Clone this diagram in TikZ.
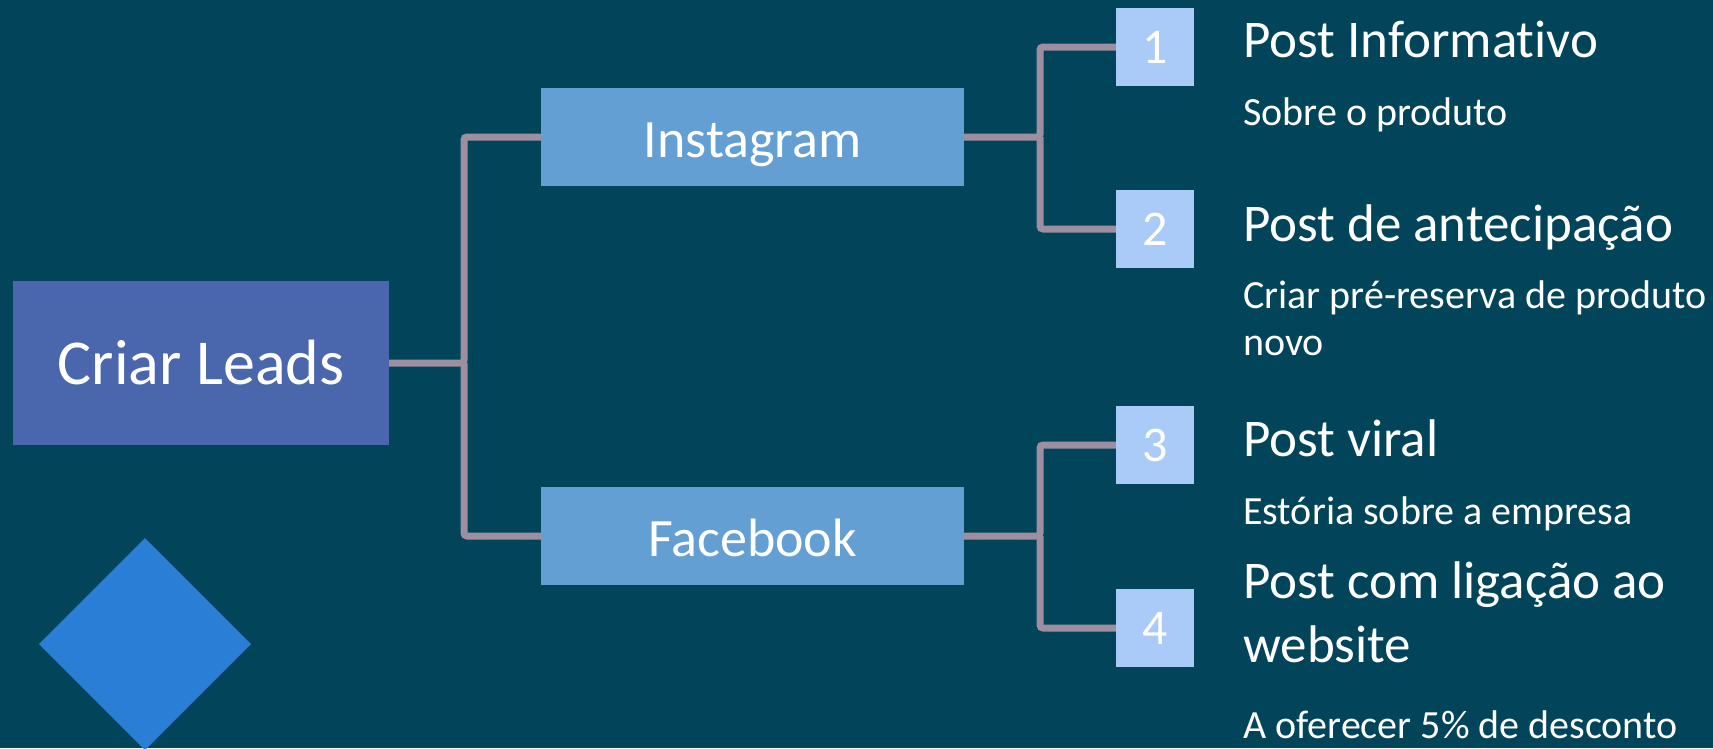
\documentclass[tikz,border=0pt]{standalone}
\usepackage{fontspec}
\setmainfont{Carlito}[Ligatures=NoCommon]
\definecolor{bgc}{HTML}{02445A}
\definecolor{rootc}{HTML}{4A67AE}
\definecolor{midc}{HTML}{639FD2}
\definecolor{numc}{HTML}{AACBF8}
\definecolor{linec}{HTML}{9D8FA0}
\definecolor{diamc}{HTML}{2A7ED6}
\tikzset{
  rootbox/.style={fill=rootc, text=white, minimum width=376pt, minimum height=164pt, inner sep=0pt, font=\fontsize{64}{70}\selectfont},
  midbox/.style={fill=midc, text=white, minimum width=423pt, minimum height=98pt, inner sep=0pt, text height=40pt, text depth=0pt, font=\fontsize{54}{60}\selectfont},
  numbox/.style={fill=numc, text=white, minimum size=78pt, inner sep=0pt, font=\fontsize{50}{56}\selectfont},
  title/.style={anchor=base west, text=white, inner sep=0pt, font=\fontsize{53}{64}\selectfont},
  sub/.style={anchor=base west, text=white, inner sep=0pt, font=\fontsize{40}{47}\selectfont},
  conn/.style={draw=linec, line width=7pt, rounded corners=3pt}
}
\begin{document}
\begin{tikzpicture}[x=1pt, y=-1pt]
\useasboundingbox (0,0) rectangle (1713,748);
\fill[bgc] (0,0) rectangle (1713,748);
\fill[diamc] (39,644) -- (145,538) -- (251,644) -- (145,750) -- cycle;

\node[rootbox] (root) at (201,363) {Criar Leads};
\node[midbox] (ig) at (752.5,137) {Instagram};
\node[midbox] (fb) at (752.5,536) {Facebook};
\node[numbox] (n1) at (1155,47) {1};
\node[numbox] (n2) at (1155,229) {2};
\node[numbox] (n3) at (1155,445) {3};
\node[numbox] (n4) at (1155,628) {4};

\coordinate (j0) at (464,363);
\coordinate (j1) at (1040,137);
\coordinate (j2) at (1040,536);

\draw[conn] (root.east) -- (j0) |- (ig.west);
\draw[conn] (j0) |- (fb.west);
\draw[conn] (ig.east) -- (j1) |- (n1.west);
\draw[conn] (j1) |- (n2.west);
\draw[conn] (fb.east) -- (j2) |- (n3.west);
\draw[conn] (j2) |- (n4.west);

\node[title] (t1) at (1243,57) {Post Informativo};
\node[sub] (s1) at (1243,125) {Sobre o produto};
\node[title] (t2) at (1243,241) {Post de antecipação};
\node[sub] (s2a) at (1243,308) {Criar pré-reserva de produto};
\node[sub] (s2b) at (1243,355) {novo};
\node[title] (t3) at (1243,456) {Post viral};
\node[sub] (s3) at (1243,524) {Estória sobre a empresa};
\node[title] (t4a) at (1243,598) {Post com ligação ao};
\node[title] (t4b) at (1243,662) {website};
\node[sub] (s4) at (1243,738) {A oferecer 5\% de desconto};
\end{tikzpicture}
\end{document}
